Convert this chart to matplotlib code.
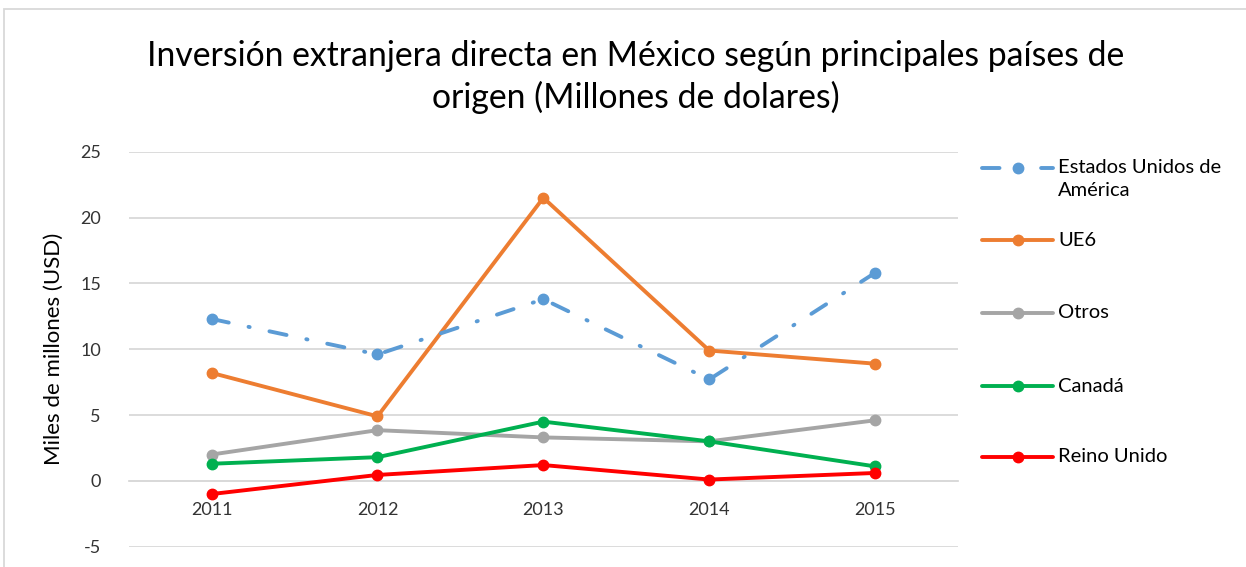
import matplotlib
matplotlib.use("Agg")
import matplotlib.pyplot as plt
from matplotlib.lines import Line2D
from matplotlib.patches import Rectangle

years = ["2011", "2012", "2013", "2014", "2015"]
usa = [12.3, 9.6, 13.8, 7.7, 15.8]
ue6 = [8.2, 4.9, 21.5, 9.9, 8.9]
otros = [2.0, 3.85, 3.3, 3.0, 4.6]
canada = [1.3, 1.8, 4.5, 3.0, 1.1]
reino_unido = [-1.0, 0.45, 1.2, 0.1, 0.6]

series_names = ["Estados Unidos de\nAmérica", "UE6", "Otros", "Canadá", "Reino Unido"]
y_ticks = [-5, 0, 5, 10, 15, 20, 25]

plt.rcParams['font.family'] = ['Lato', 'DejaVu Sans']

W, H = 1246, 567
fig = plt.figure(figsize=(W / 100, H / 100), dpi=100)
ax = fig.add_axes([128.7 / W, 1 - 546.7 / H, (958 - 128.7) / W, (546.7 - 151.7) / H])

for s in ['top', 'right', 'left']:
    ax.spines[s].set_visible(False)
ax.spines['bottom'].set_position(('data', 0))
ax.spines['bottom'].set_color('#D9D9D9')
ax.spines['bottom'].set_linewidth(1.3)

colors = ["#5B9BD5", "#ED7D31", "#A5A5A5", "#00B050", "#FF0000"]
data = [usa, ue6, otros, canada, reino_unido]
x = list(range(len(years)))
lw = 2.8
dash = (0, (4.5, 5.2, 0.3, 5.2))
styles = [dash, '-', '-', '-', '-']
order = [2, 3, 4, 1, 0]
for i in order:
    ax.plot(x, data[i], color=colors[i], lw=lw, linestyle=styles[i], marker='o',
            markersize=7.5, solid_capstyle='round', dash_capstyle='round', zorder=3)

ax.set_xlim(-0.5, 4.5)
ax.set_ylim(-5, 25)
ax.set_yticks(y_ticks)
ax.set_yticklabels([str(t) for t in y_ticks], fontsize=13, color="#333333")
ax.set_xticks(x)
ax.set_xticklabels(years, fontsize=13, color="#333333")
ax.tick_params(axis='both', length=0)
ax.tick_params(axis='y', pad=20)
ax.tick_params(axis='x', pad=15)
ax.grid(axis='y', color='#D9D9D9', lw=1.3)
ax.set_axisbelow(True)
ax.set_ylabel("Miles de millones (USD)", fontsize=16, color="#000000", labelpad=12)

fig.text(636 / W, 1 - 77 / H, "Inversión extranjera directa en México según principales países de\norigen (Millones de dolares)",
         ha='center', va='center', fontsize=24.3, linespacing=1.32, color="#000000")

# legend (manual)
leg_y = [168, 240, 313, 386, 457]
for i in range(5):
    yy = 1 - leg_y[i] / H
    ln = Line2D([982 / W, 1053 / W], [yy, yy], transform=fig.transFigure, color=colors[i], lw=lw,
                linestyle=styles[i], solid_capstyle='round', dash_capstyle='round')
    mk = Line2D([1017.5 / W], [yy], transform=fig.transFigure, color=colors[i], marker='o', markersize=7.5)
    fig.add_artist(ln)
    fig.add_artist(mk)
    if i == 0:
        fig.text(1058 / W, 1 - 179 / H, series_names[i], ha='left', va='center', fontsize=14.5,
                 linespacing=1.4, color="#000000")
    else:
        fig.text(1058 / W, yy, series_names[i], ha='left', va='center', fontsize=14.5, color="#000000")

fig.add_artist(Rectangle((4 / W, -0.1), 2, 1.1 - 9 / H, transform=fig.transFigure, fill=False,
                         edgecolor='#D9D9D9', lw=1.3))

fig.savefig("out.png", dpi=100, facecolor='white')
